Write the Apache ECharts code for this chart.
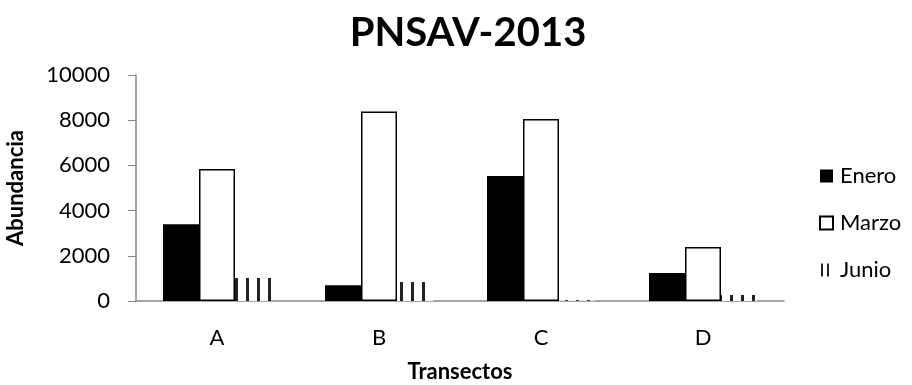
<!DOCTYPE html>
<html>
<head>
<meta charset="utf-8">
<script src="https://cdn.jsdelivr.net/npm/echarts@6/dist/echarts.min.js"></script>
<style>
  html, body { margin: 0; padding: 0; background: #fff; }
  #main { width: 912px; height: 385px; }
</style>
</head>
<body>
<div id="main"></div>
<script>
const transectos = ["A", "B", "C", "D"];
const enero = [3400, 700, 5530, 1240];
const marzo = [5840, 8380, 8050, 2390];
const junio = [1020, 840, 30, 260];
const yTicks = ["0", "2000", "4000", "6000", "8000", "10000"];

// vertical stripes like the Excel pattern fill
const stripe = document.createElement("canvas");
stripe.width = 6;
stripe.height = 10;
const ctx = stripe.getContext("2d");
ctx.fillStyle = "#fff";
ctx.fillRect(0, 0, 6, 10);
ctx.fillStyle = "#222";
ctx.fillRect(1, 0, 2, 10);

// same stripes, wider spacing, for the bars
const stripeBar = document.createElement("canvas");
stripeBar.width = 11;
stripeBar.height = 10;
const ctx2 = stripeBar.getContext("2d");
ctx2.fillStyle = "#fff";
ctx2.fillRect(0, 0, 11, 10);
ctx2.fillStyle = "#222";
ctx2.fillRect(4, 0, 3, 10);

const font = "Lato, 'Open Sans', sans-serif";
const myChart = echarts.init(document.getElementById("main"));
myChart.setOption({
  animation: false,
  textStyle: { fontFamily: font, color: "#000" },
  title: {
    text: "PNSAV-2013",
    left: 463,
    textAlign: "center",
    top: 8,
    textStyle: { fontSize: 40, fontWeight: "bold", color: "#000", fontFamily: font },
  },
  legend: {
    orient: "vertical",
    left: 819,
    top: 165,
    padding: 0,
    icon: "rect",
    itemWidth: 13,
    itemHeight: 13,
    itemGap: 25,
    textStyle: { fontSize: 22, lineHeight: 22, color: "#000", padding: [0, 0, 0, 2] },
    data: [
      { name: "Enero" },
      { name: "Marzo" },
      { name: "Junio", itemStyle: { color: { image: stripe, repeat: "repeat" } } },
    ],
  },
  grid: {
    left: 136,
    right: 128,
    top: 75,
    bottom: 84,
    outerBoundsMode: "none",
  },
  xAxis: {
    type: "category",
    data: transectos,
    name: "Transectos",
    nameLocation: "middle",
    nameGap: 60,
    nameTextStyle: { fontSize: 22, fontWeight: "bold", color: "#000" },
    axisLine: { lineStyle: { color: "#868686", width: 1.5 } },
    axisTick: { show: false },
    axisLabel: { fontSize: 22, color: "#000", margin: 26 },
  },
  yAxis: {
    type: "value",
    min: 0,
    max: 10000,
    interval: 2000,
    name: "Abundancia",
    nameLocation: "middle",
    nameGap: 109,
    nameTextStyle: { fontSize: 22, fontWeight: "bold", color: "#000" },
    axisLine: { show: true, lineStyle: { color: "#868686", width: 1.5 } },
    axisTick: { show: true, inside: false, length: 8, lineStyle: { color: "#868686" } },
    splitLine: { show: false },
    axisLabel: {
      fontSize: 22,
      color: "#000",
      margin: 26,
      formatter: (v) => yTicks[Math.round(v / 2000)],
    },
  },
  series: [
    {
      name: "Enero",
      type: "bar",
      data: enero,
      barWidth: 36,
      barGap: "0%",
      itemStyle: { color: "#000" },
    },
    {
      name: "Marzo",
      type: "bar",
      data: marzo,
      barWidth: 36,
      barGap: "0%",
      itemStyle: { color: "#fff", borderColor: "#000", borderWidth: 1.5 },
    },
    {
      name: "Junio",
      type: "bar",
      data: junio,
      barWidth: 36,
      barGap: "0%",
      itemStyle: { color: { image: stripeBar, repeat: "repeat" } },
    },
  ],
});
</script>
</body>
</html>
